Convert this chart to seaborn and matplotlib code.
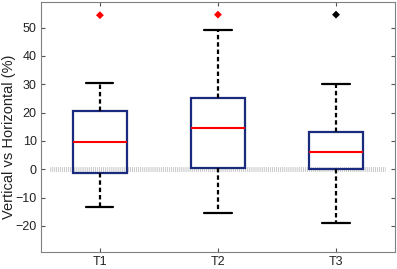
import numpy as np
import pandas as pd
import matplotlib
matplotlib.use("Agg")
import matplotlib.pyplot as plt
import seaborn as sns

# five-number summaries (%)
groups = ["T1", "T2", "T3"]
whisker_low = [-13.2, -15.5, -19.1]
q1 = [-1.2, 0.6, 0.0]
median = [9.5, 14.5, 6.2]
q3 = [20.7, 25.1, 13.3]
whisker_high = [30.4, 49.2, 30.0]
outliers = [54.4, 54.6, 54.6]
outlier_colors = ["red", "red", "black"]
yticks = [-20, -10, 0, 10, 20, 30, 40, 50]

rows = []
for i, g in enumerate(groups):
    for v in [whisker_low[i], q1[i], median[i], q3[i], whisker_high[i]]:
        rows.append({"group": g, "value": v})
df = pd.DataFrame(rows)

sns.set_style("white")
plt.rcParams["font.family"] = ["Liberation Sans", "DejaVu Sans"]

navy = "#1a2a7c"
fig = plt.figure(figsize=(3.97, 2.69), dpi=100)
ax = fig.add_axes([0.103, 0.062, 0.892, 0.931])

# zero reference line (gray hatched look)
ax.axhline(0, xmin=0.025, xmax=0.972, color="#b8b8b8", lw=3.5,
           linestyle=(0, (0.15, 0.25)), zorder=0)

sns.boxplot(data=df, x="group", y="value", order=groups, ax=ax,
            width=0.46, whis=(0, 100), showfliers=False,
            color="white", linecolor=navy, linewidth=1.5,
            boxprops=dict(edgecolor=navy, facecolor="none", linewidth=1.6),
            medianprops=dict(color="red", linewidth=1.5),
            whiskerprops=dict(color="black", linestyle=(0, (2, 1.3)), linewidth=1.6),
            capprops=dict(color="black", linewidth=1.6))

sns.scatterplot(x=groups, y=outliers, hue=groups,
                palette=dict(zip(groups, outlier_colors)),
                marker="D", s=16, edgecolor="none", legend=False, ax=ax)

ax.set_xlim(-0.5, 2.5)
ax.set_ylim(-29.3, 59.1)
ax.set_yticks(yticks)
ax.set_xlabel("")
ax.set_ylabel("Vertical vs Horizontal (%)", fontsize=10.5, color="#222222")
ax.yaxis.set_label_coords(-0.07, 0.46)
ax.tick_params(direction="in", length=3, width=0.8, color="#555555",
               labelsize=9, labelcolor="#222222", top=True, right=True,
               left=True, bottom=True, pad=3)
for s in ax.spines.values():
    s.set_color("#808080")
    s.set_linewidth(0.8)

fig.savefig("out.png", dpi=100)
